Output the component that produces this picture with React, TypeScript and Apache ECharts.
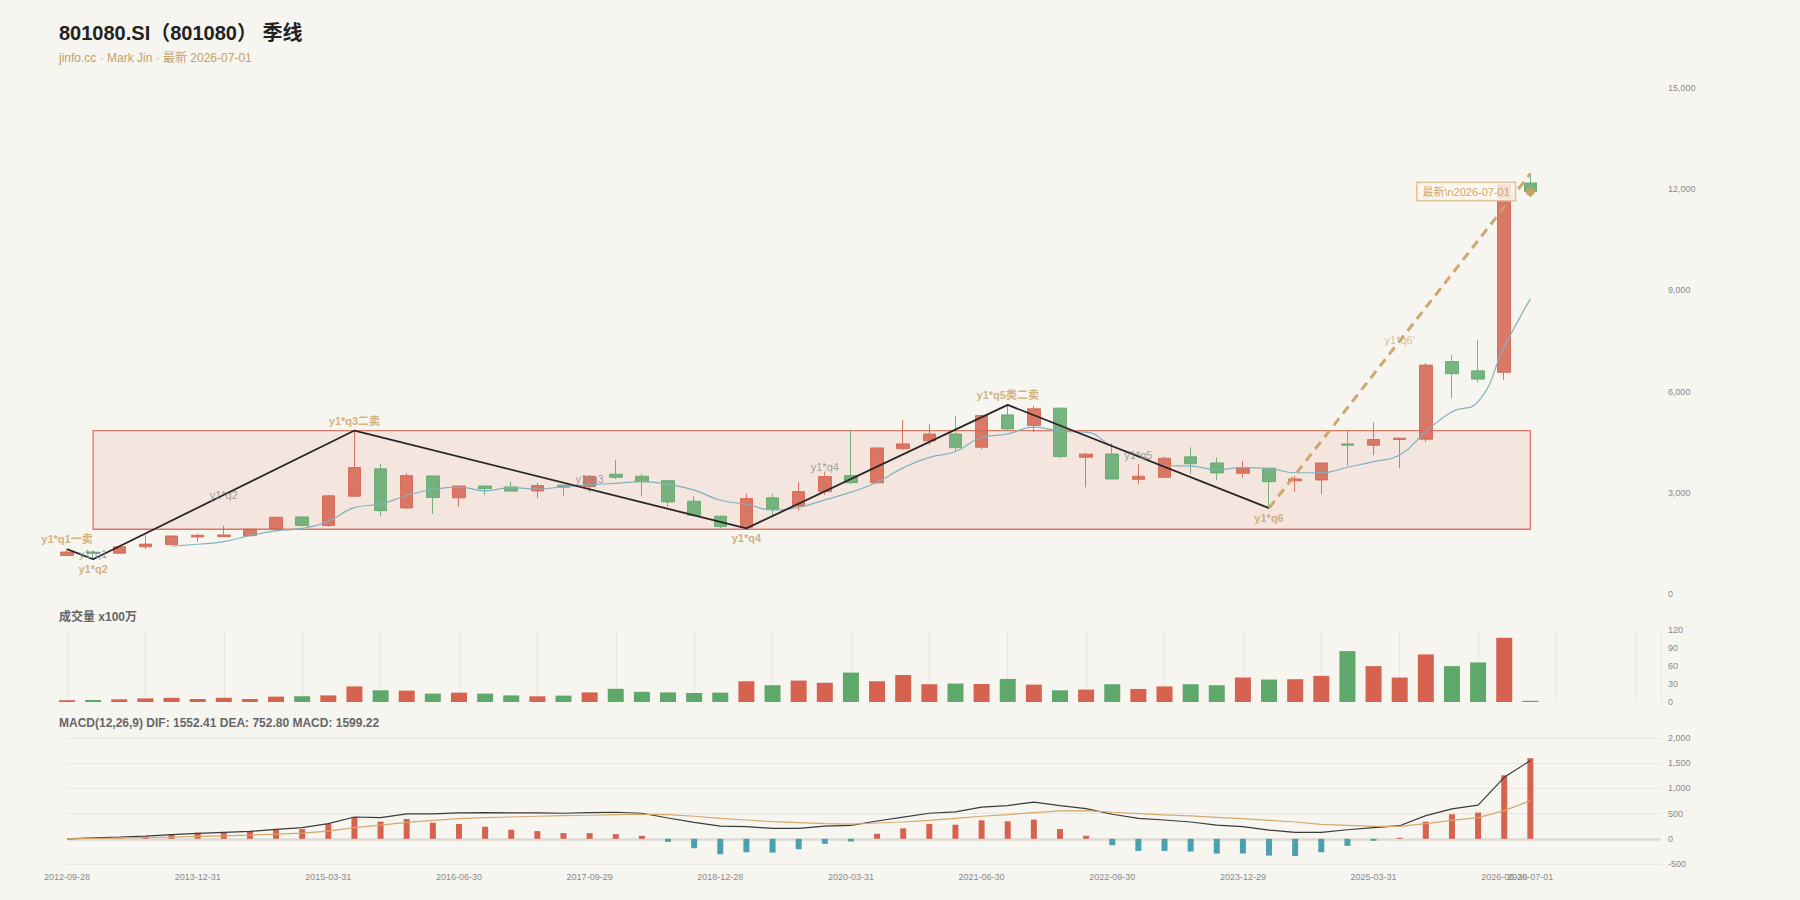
import React, { useEffect, useRef } from "react";
import * as echarts from "echarts";

const dates = [
  "2012-09-28", "2012-12-31", "2013-03-29", "2013-06-28", "2013-09-30", "2013-12-31",
  "2014-03-31", "2014-06-30", "2014-09-30", "2014-12-31", "2015-03-31", "2015-06-30",
  "2015-09-30", "2015-12-31", "2016-03-31", "2016-06-30", "2016-09-30", "2016-12-30",
  "2017-03-31", "2017-06-30", "2017-09-29", "2017-12-29", "2018-03-30", "2018-06-29",
  "2018-09-28", "2018-12-28", "2019-03-29", "2019-06-28", "2019-09-30", "2019-12-31",
  "2020-03-31", "2020-06-30", "2020-09-30", "2020-12-31", "2021-03-31", "2021-06-30",
  "2021-09-30", "2021-12-31", "2022-03-31", "2022-06-30", "2022-09-30", "2022-12-30",
  "2023-03-31", "2023-06-30", "2023-09-28", "2023-12-29", "2024-03-29", "2024-06-28",
  "2024-09-30", "2024-12-31", "2025-03-31", "2025-06-30", "2025-09-30", "2025-12-31",
  "2026-03-31", "2026-06-30", "2026-07-01",
];
const emptySlots = ["", "", "", "", ""];

const opens = [1140, 1240, 1210, 1400, 1465, 1690, 1700, 1730, 1920, 2285, 2030, 2900, 3710, 2550, 3500, 2850, 3200, 3175, 3055, 3225, 3185, 3550, 3490, 3360, 2750, 2305, 1980, 2850, 2610, 3035, 3510, 3295, 4310, 4540, 4745, 4350, 5310, 4995, 5510, 4055, 4150, 3400, 3460, 4065, 3885, 3580, 3730, 3355, 3380, 4450, 4410, 4580, 4590, 6890, 6615, 6570, 12185];
const closes = [1245, 1210, 1400, 1480, 1720, 1740, 1750, 1920, 2275, 2030, 2910, 3750, 2470, 3510, 2860, 3200, 3125, 3050, 3215, 3165, 3490, 3460, 3330, 2730, 2335, 2000, 2830, 2515, 3035, 3480, 3300, 4330, 4450, 4740, 4340, 5290, 4895, 5490, 4075, 4145, 3410, 3490, 4025, 3860, 3590, 3740, 3330, 3410, 3885, 4410, 4580, 4620, 6785, 6530, 6370, 12180, 11930];
const lows = [1130, 1030, 1200, 1330, 1460, 1550, 1700, 1720, 1850, 2010, 2000, 2890, 2310, 2540, 2380, 2590, 2940, 3040, 2840, 2920, 3020, 3410, 2890, 2590, 2290, 1950, 1945, 2300, 2470, 2940, 3250, 3280, 4270, 4420, 4220, 4290, 4835, 4800, 4020, 3165, 3400, 3255, 3450, 3550, 3375, 3450, 2545, 3035, 2960, 3805, 4115, 3730, 4500, 5805, 6280, 6350, 11760];
const highs = [1330, 1250, 1430, 1740, 1740, 1780, 2020, 1930, 2290, 2310, 2930, 4845, 3860, 3580, 3510, 3230, 3220, 3330, 3300, 3230, 3500, 3975, 3560, 3380, 2890, 2320, 2970, 2970, 3320, 3630, 4866, 4340, 5160, 5040, 5280, 5300, 5607, 5580, 5520, 4190, 4470, 3850, 4075, 4350, 4055, 3945, 3740, 3500, 3890, 4865, 5085, 4630, 6845, 7080, 7525, 12200, 12460];

const ma5 = [null, null, null, null, 1415, 1474, 1552, 1730, 1870, 1945, 2160, 2560, 2670, 2920, 3105, 3170, 3060, 3155, 3110, 3180, 3240, 3280, 3333, 3250, 3078, 2780, 2660, 2490, 2570, 2790, 3020, 3315, 3740, 4050, 4225, 4640, 4745, 4948, 4830, 4800, 4380, 4120, 3810, 3790, 3690, 3745, 3720, 3595, 3595, 3757, 3925, 4120, 4810, 5400, 5700, 7320, 8750];

const volume = [3, 3.3, 4.5, 6, 7, 5, 7, 5, 9, 9.6, 11, 26, 19.5, 19, 14, 15.6, 14, 11, 9.5, 10.6, 16, 22, 17, 16, 15, 15.6, 34.6, 28, 35.7, 32, 49, 34.6, 45, 29.6, 30.7, 30, 38.5, 29, 19.5, 20.7, 29.6, 21.8, 26, 29.6, 28, 40.8, 37.4, 38, 43.6, 84.9, 59.8, 40.8, 79.3, 59.8, 66, 107, 2];

const macdHist = [0, 5, 22, 55, 95, 120, 127, 153, 193, 193, 293, 433, 340, 393, 320, 293, 240, 180, 153, 113, 113, 93, 60, -60, -187, -307, -267, -273, -207, -100, -53, 100, 207, 293, 280, 367, 347, 380, 193, 60, -127, -240, -240, -253, -293, -293, -333, -340, -267, -140, -40, 20, 340, 487, 520, 1260, 1599.22];
const dif = [0, 20, 36, 55, 82, 107, 127, 147, 187, 220, 300, 433, 420, 493, 493, 513, 520, 513, 513, 507, 520, 527, 507, 413, 327, 253, 240, 207, 207, 253, 267, 353, 430, 507, 533, 627, 660, 727, 660, 600, 487, 407, 373, 333, 273, 240, 173, 127, 127, 180, 220, 260, 460, 593, 667, 1220, 1552.41];
const dea = [0, 7, 13, 27, 33, 47, 60, 73, 93, 113, 153, 220, 273, 327, 367, 400, 420, 433, 447, 460, 467, 480, 487, 480, 447, 407, 373, 340, 320, 300, 293, 313, 333, 367, 407, 447, 480, 520, 553, 560, 527, 500, 473, 453, 427, 400, 367, 333, 287, 267, 247, 247, 300, 367, 420, 560, 752.8];

const boxIdx = [1, 56];
const boxVal = [1920, 4845];

const pivotIdx = [0, 1, 11, 26, 36, 46];
const pivotVal = [1330, 1030, 4845, 1945, 5607, 2545];
const pivotText = ["y1*q1一卖", "y1*q2", "y1*q3二卖", "y1*q4", "y1*q5类二卖", "y1*q6"];
const pivotSide = ["top", "bottom", "top", "bottom", "top", "bottom"];

const segIdx = [1, 6, 20, 29, 41];
const segVal = [1190, 2937, 3411, 3777, 4124];
const segText = ["y1*q1", "y1*q2", "y1*q3", "y1*q4", "y1*q5"];

const projIdx = [46, 56];
const projVal = [2545, 12460];
const projLabelIdx = 51;
const projLabelVal = 7536;
const projText = "y1*q6'";

const latestIdx = 56;
const latestVal = 11930;
const latestText = "最新\\n2026-07-01";

const RED = "#d5634f";
const GREEN = "#5fa86c";
const TEAL = "#4a9fb0";
const TAN = "#c9a063";
const BG = "#f7f5f0";
const FONT = "'Liberation Sans', 'Noto Sans CJK SC', sans-serif";

export default function App() {
  const ref = useRef<HTMLDivElement>(null);

  useEffect(() => {
    document.body.style.margin = "0";
    document.body.style.background = BG;
    const chart = echarts.init(ref.current!, null, { renderer: "svg" });
    const xData = dates.concat(emptySlots);
    const lastIdx = dates.length - 1;
    const axisLabelStyle = { color: "#8a8a8a", fontSize: 9, fontFamily: FONT };

    const baseX = {
      type: "category",
      data: xData,
      boundaryGap: false,
      axisLine: { show: false },
      axisTick: { show: false },
      axisLabel: { show: false },
      splitLine: { show: false },
    };

    const option: any = {
      animation: false,
      backgroundColor: BG,
      textStyle: { fontFamily: FONT },
      title: [
        {
          text: "801080.SI（801080） 季线",
          subtext: "jinfo.cc · Mark Jin · 最新 2026-07-01",
          left: 59,
          top: 23,
          padding: 0,
          itemGap: 9,
          textStyle: { fontSize: 20, fontWeight: "bold", color: "#222", fontFamily: FONT },
          subtextStyle: { fontSize: 12, color: TAN, fontFamily: FONT },
        },
        {
          text: "成交量 x100万",
          left: 59,
          top: 611,
          padding: 0,
          textStyle: { fontSize: 12, fontWeight: "bold", color: "#666", fontFamily: FONT },
        },
        {
          text: "MACD(12,26,9) DIF: 1552.41 DEA: 752.80 MACD: 1599.22",
          left: 59,
          top: 717,
          padding: 0,
          textStyle: { fontSize: 12, fontWeight: "bold", color: "#666", fontFamily: FONT },
        },
      ],
      grid: [
        { left: 67, right: 139, top: 88, height: 506 },
        { left: 67, right: 139, top: 630, height: 72 },
        { left: 67, right: 139, top: 738, height: 126 },
      ],
      xAxis: [
        { ...baseX, gridIndex: 0 },
        {
          ...baseX,
          gridIndex: 1,
          splitLine: { show: true, interval: 2, lineStyle: { color: "#e8e6e0", width: 1 } },
        },
        {
          ...baseX,
          gridIndex: 2,
          axisLine: { show: false, onZero: false },
          axisLabel: {
            show: true,
            ...axisLabelStyle,
            margin: 8,
            interval: (i: number) => i % 5 === 0 || i === lastIdx,
          },
        },
      ],
      yAxis: [
        {
          gridIndex: 0,
          type: "value",
          position: "right",
          min: 0,
          max: 15000,
          interval: 3000,
          axisLine: { show: false },
          axisTick: { show: false },
          splitLine: { show: false },
          axisLabel: { ...axisLabelStyle, margin: 7, formatter: (v: number) => v.toLocaleString("en-US") },
        },
        {
          gridIndex: 1,
          type: "value",
          position: "right",
          min: 0,
          max: 120,
          interval: 30,
          axisLine: { show: true, lineStyle: { color: "#e8e6e0" } },
          axisTick: { show: false },
          splitLine: { show: false },
          axisLabel: { ...axisLabelStyle, margin: 7 },
        },
        {
          gridIndex: 2,
          type: "value",
          position: "right",
          min: -500,
          max: 2000,
          interval: 500,
          axisLine: { show: false },
          axisTick: { show: false },
          splitLine: { show: true, lineStyle: { color: "#e8e6e0", width: 1 } },
          axisLabel: { ...axisLabelStyle, margin: 7, formatter: (v: number) => v.toLocaleString("en-US") },
        },
      ],
      series: [
        {
          type: "candlestick",
          xAxisIndex: 0,
          yAxisIndex: 0,
          barWidth: 13,
          clip: false,
          data: opens.map((o, i) => [o, closes[i], lows[i], highs[i]]),
          itemStyle: {
            color: RED,
            color0: GREEN,
            borderColor: RED,
            borderColor0: GREEN,
            borderWidth: 1,
            opacity: 0.85,
          },
          markArea: {
            silent: true,
            itemStyle: {
              color: "rgba(222,130,110,0.13)",
              borderColor: "rgba(214,99,79,0.85)",
              borderWidth: 1.3,
            },
            data: [[{ xAxis: boxIdx[0], yAxis: boxVal[0] }, { xAxis: boxIdx[1], yAxis: boxVal[1] }]],
          },
        },
        {
          type: "line",
          xAxisIndex: 0,
          yAxisIndex: 0,
          data: ma5,
          smooth: true,
          showSymbol: false,
          symbol: "none",
          lineStyle: { color: "#7fb2c0", width: 1.2 },
        },
        {
          type: "line",
          xAxisIndex: 0,
          yAxisIndex: 0,
          data: pivotIdx.map((x, i) => [x, pivotVal[i]]),
          symbol: "none",
          lineStyle: { color: "#2b2626", width: 1.8 },
          z: 4,
        },
        {
          type: "line",
          xAxisIndex: 0,
          yAxisIndex: 0,
          data: projIdx.map((x, i) => [x, projVal[i]]),
          symbol: "none",
          lineStyle: { color: TAN, width: 3, type: [9, 6], opacity: 0.9 },
          z: 4,
        },
        {
          type: "scatter",
          xAxisIndex: 0,
          yAxisIndex: 0,
          symbolSize: 1,
          itemStyle: { color: "rgba(0,0,0,0)" },
          z: 6,
          data: pivotIdx.map((x, i) => ({
            value: [x, pivotVal[i]],
            label: {
              show: true,
              position: pivotSide[i],
              distance: 4,
              formatter: pivotText[i],
              color: TAN,
              fontSize: 11,
              fontWeight: "bold",
              fontFamily: FONT,
            },
          })),
        },
        {
          type: "scatter",
          xAxisIndex: 0,
          yAxisIndex: 0,
          symbolSize: 1,
          itemStyle: { color: "rgba(0,0,0,0)" },
          z: 6,
          data: segIdx
            .map((x, i) => ({
              value: [x, segVal[i]],
              label: {
                show: true,
                position: "inside",
                formatter: segText[i],
                color: "#8a8a8a",
                fontSize: 11,
                fontFamily: FONT,
              },
            }))
            .concat([
              {
                value: [projLabelIdx, projLabelVal],
                label: {
                  show: true,
                  position: "inside",
                  formatter: projText,
                  color: "#d2b07c",
                  fontSize: 11,
                  fontFamily: FONT,
                },
              },
            ]),
        },
        {
          type: "scatter",
          xAxisIndex: 0,
          yAxisIndex: 0,
          symbol: "circle",
          symbolSize: 9,
          itemStyle: { color: TAN, opacity: 0.95 },
          z: 7,
          data: [
            {
              value: [latestIdx, latestVal],
              label: {
                show: true,
                position: "left",
                distance: 11,
                formatter: latestText,
                color: TAN,
                fontSize: 11,
                fontFamily: FONT,
                backgroundColor: "rgba(252,248,240,0.85)",
                borderColor: "#dcc49a",
                borderWidth: 1.5,
                padding: [3, 5],
              },
            },
          ],
        },
        {
          type: "bar",
          xAxisIndex: 1,
          yAxisIndex: 1,
          barWidth: 16,
          clip: false,
          data: volume.map((v, i) => ({
            value: v,
            itemStyle: { color: closes[i] >= opens[i] ? RED : GREEN },
          })),
        },
        {
          type: "bar",
          xAxisIndex: 2,
          yAxisIndex: 2,
          barWidth: 6,
          clip: false,
          data: macdHist.map((v) => ({
            value: v,
            itemStyle: { color: v >= 0 ? RED : TEAL },
          })),
          markLine: {
            silent: true,
            symbol: "none",
            label: { show: false },
            lineStyle: { color: "#dddad4", width: 2.5, type: "solid" },
            data: [{ yAxis: 0 }],
            z: 1,
          },
        },
        {
          type: "line",
          xAxisIndex: 2,
          yAxisIndex: 2,
          data: dif,
          symbol: "none",
          lineStyle: { color: "#3a3a3a", width: 1.2 },
          z: 5,
        },
        {
          type: "line",
          xAxisIndex: 2,
          yAxisIndex: 2,
          data: dea,
          symbol: "none",
          lineStyle: { color: "#d4a86a", width: 1.2 },
          z: 5,
        },
      ],
    };

    chart.setOption(option);
    return () => chart.dispose();
  }, []);

  return <div ref={ref} style={{ position: "absolute", left: 0, top: 0, width: 1800, height: 900 }} />;
}
